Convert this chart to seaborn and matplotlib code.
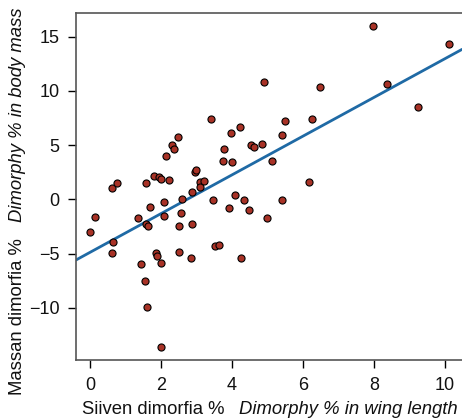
import numpy as np
import pandas as pd
import seaborn as sns
import matplotlib.pyplot as plt

# wing length dimorphy (%) and body mass dimorphy (%)
wing = [0.61, 0.77, 1.58, 1.80, 1.95, 1.99, 2.22, 2.13, 2.32, 2.36,
        2.47, 1.69, 2.09, 2.59, 2.88, 2.97, 2.99, 3.10, 3.10, 3.22,
        3.42, 3.47, 3.78, 3.76, 3.96, 3.99, 4.09, 3.92, 4.23, 7.97,
        10.11, 4.90, 6.48, 8.36, 9.23, 5.49, 6.25, 5.40, 4.53, 4.63,
        4.85, 5.12, 6.17, 4.34, 5.40, 4.48, 4.99, 0.00, 0.14, 0.64,
        0.63, 1.34, 1.58, 1.64, 1.43, 1.56, 1.62, 2.09, 1.87, 1.88,
        2.01, 2.00, 2.51, 2.57, 2.51, 2.86, 2.85, 3.52, 3.64, 4.25]
mass = [1.01, 1.51, 1.51, 2.18, 2.01, 1.89, 1.81, 4.02, 5.01, 4.62,
        5.70, -0.74, -0.22, 0.01, 0.69, 2.53, 2.68, 1.57, 1.17, 1.69,
        7.37, -0.04, 4.65, 3.51, 6.14, 3.41, 0.38, -0.77, 6.64, 16.0,
        14.34, 10.84, 10.38, 10.6, 8.51, 7.2, 7.43, 5.95, 4.98, 4.80,
        5.06, 3.56, 1.64, -0.04, -0.04, -0.97, -1.72, -2.98, -1.63, -3.91,
        -4.95, -1.69, -2.31, -2.42, -5.96, -7.55, -9.94, -1.54, -4.97, -5.2,
        -5.84, -13.6, -2.49, -1.29, -4.84, -2.28, -5.38, -4.3, -4.19, -5.42]

# fitted regression line
intercept = -4.89
slope = 1.785

x_ticks = [0, 2, 4, 6, 8, 10]
y_ticks = [-10, -5, 0, 5, 10, 15]

df = pd.DataFrame({'wing': wing, 'mass': mass})

sns.set_style('white')
plt.rcParams['font.family'] = ['Liberation Sans', 'DejaVu Sans']
plt.rcParams['axes.unicode_minus'] = True

fig = plt.figure(figsize=(4.62, 4.2), dpi=100)
ax = fig.add_axes([76 / 462, 60 / 420, 386 / 462, 347 / 420])

ax.axline((0, intercept), slope=slope, color='#1f6aa5', lw=2, zorder=2)
sns.scatterplot(data=df, x='wing', y='mass', ax=ax, s=26, color='#a83226',
                edgecolor='black', linewidth=0.8, zorder=3)

ax.set_xlim(-0.394, 10.48)
ax.set_ylim(-14.81, 17.17)
ax.set_xticks(x_ticks)
ax.set_yticks(y_ticks)
ax.set_yticklabels(['\u221210', '\u22125', '0', '5', '10', '15'])
ax.tick_params(labelsize=13, length=6, width=1, color='black',
               labelcolor='#111111', direction='out', bottom=True,
               left=True, pad=6)
ax.set_xlabel('')
ax.set_ylabel('')
for side in ['left', 'bottom', 'top']:
    ax.spines[side].set_color('#555555')
    ax.spines[side].set_linewidth(1.2)
ax.spines['right'].set_visible(False)

# split axis labels (finnish normal, english italic)
lab = dict(fontsize=13.3, color='#111111')
fig.text(82 / 462, 1 - 410 / 420, 'Siiven dimorfia %',
         ha='left', va='center', **lab)
fig.text(458 / 462, 1 - 410 / 420, 'Dimorphy % in wing length',
         ha='right', va='center', style='italic', **lab)
fig.text(18 / 462, 1 - 395 / 420, 'Massan dimorfia %',
         ha='center', va='bottom', rotation=90, **lab)
fig.text(18 / 462, 1 - 7 / 420, 'Dimorphy % in body mass',
         ha='center', va='top', rotation=90, style='italic', **lab)

fig.savefig('out.png', dpi=100)
